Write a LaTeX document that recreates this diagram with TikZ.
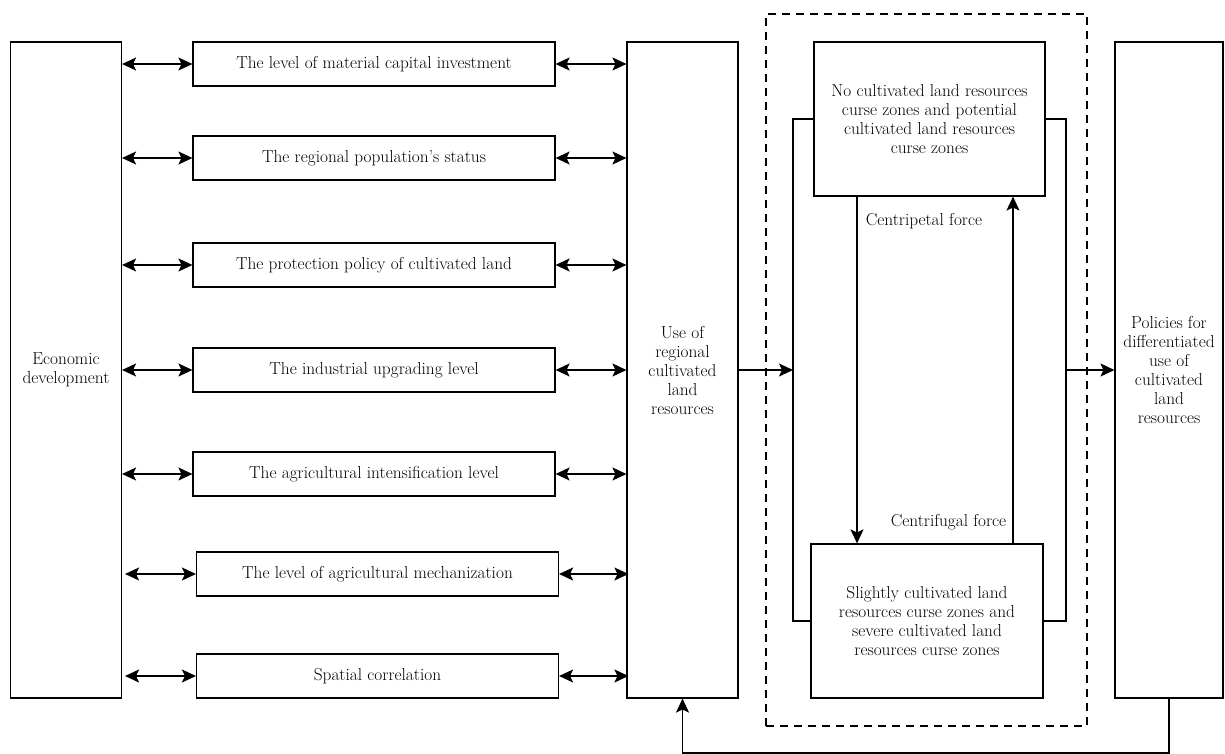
\documentclass[tikz,border=0pt]{standalone}
\usetikzlibrary{arrows.meta,positioning}

\begin{document}
\begin{tikzpicture}[x=1pt,y=-1pt,line width=1.1pt,>={Stealth[length=14pt,width=13pt,inset=3pt]},
		every node/.style={font=\fontsize{17.3}{19}\selectfont,align=center,inner sep=0pt},
		tall/.style={draw,minimum width=111,minimum height=656},
		factor/.style={draw,minimum width=362,minimum height=44},
		zone/.style={draw,minimum width=231,minimum height=154},
		frame/.style={draw,dash pattern=on 8pt off 6pt,minimum width=321,minimum height=712},
		link/.style={line width=1.5pt}]
	\useasboundingbox (0,0) rectangle (1225,754);

	% the three tall columns
	\node[tall] (Econ)   at (66,370)   {Economic\\development};
	\node[tall] (UseLand) at (682.5,370) {Use of\\regional\\cultivated\\land\\resources};
	\node[tall,minimum width=108] (Policy) at (1169,370) {Policies for\\differentiated\\use of\\cultivated\\land\\resources};

	% influencing factors
	\node[factor] (Capital)    at (374,64)    {The level of material capital investment};
	\node[factor] (Population) at (374,158)   {The regional population's status};
	\node[factor] (Protection) at (374,265)   {The protection policy of cultivated land};
	\node[factor] (Industry)   at (374,370)   {The industrial upgrading level};
	\node[factor] (Intensity)  at (374,474)   {The agricultural intensification level};
	\node[factor] (Machinery)  at (377.5,574) {The level of agricultural mechanization};
	\node[factor] (Spatial)    at (377.5,676) {Spatial correlation};

	% curse zones
	\node[frame] (ZoneFrame) at (926.5,370) {};
	\node[zone]  (UpperZone) at (929.5,119) {No cultivated land resources\\curse zones and potential\\cultivated land resources\\curse zones};
	\node[zone,minimum width=232] (LowerZone) at (927,621) {Slightly cultivated land\\resources curse zones and\\severe cultivated land\\resources curse zones};

	\coordinate (LeftLoop)  at (793,0);
	\coordinate (RightLoop) at (1066,0);
	\coordinate (InX)       at (857,0);
	\coordinate (OutX)      at (1013,0);
	\coordinate (Back)      at (1169,753);

	\path[<->,link] (Econ.east |- Capital)    edge (Capital.west)
	           (Capital.east)            edge (UseLand.west |- Capital)
	           (Econ.east |- Population) edge (Population.west)
	           (Population.east)         edge (UseLand.west |- Population)
	           (Econ.east |- Protection) edge (Protection.west)
	           (Protection.east)         edge (UseLand.west |- Protection)
	           (Econ.east |- Industry)   edge (Industry.west)
	           (Industry.east)           edge (UseLand.west |- Industry)
	           (Econ.east |- Intensity)  edge (Intensity.west)
	           (Intensity.east)          edge (UseLand.west |- Intensity)
	           (Econ.east |- Machinery)  edge[shorten <=3pt] (Machinery.west)
	           (Machinery.east)          edge[shorten >=-2pt] (UseLand.west |- Machinery)
	           (Econ.east |- Spatial)    edge[shorten <=3pt] (Spatial.west)
	           (Spatial.east)            edge[shorten >=-2pt] (UseLand.west |- Spatial);

	\draw[link] (UpperZone.west) -- (UpperZone.west -| LeftLoop) -- (LowerZone.west -| LeftLoop) -- (LowerZone.west);
	\draw[link] (UpperZone.east) -- (UpperZone.east -| RightLoop) -- (LowerZone.east -| RightLoop) -- (LowerZone.east);

	\draw[->,link] (UpperZone.south -| InX) -- node[right=8pt,pos=0.07] {Centripetal force} (LowerZone.north -| InX);
	\draw[->,link] (LowerZone.north -| OutX) -- node[left=6pt,pos=0.06] {Centrifugal force} (UpperZone.south -| OutX);

	\draw[->,link] (UseLand.east) -- (UseLand.east -| LeftLoop);
	\draw[->,link] (UseLand.east -| RightLoop) -- (Policy.west);
	\draw[->,link] (Policy.south) -- (Back) -| (UseLand.south);
\end{tikzpicture}
\end{document}
